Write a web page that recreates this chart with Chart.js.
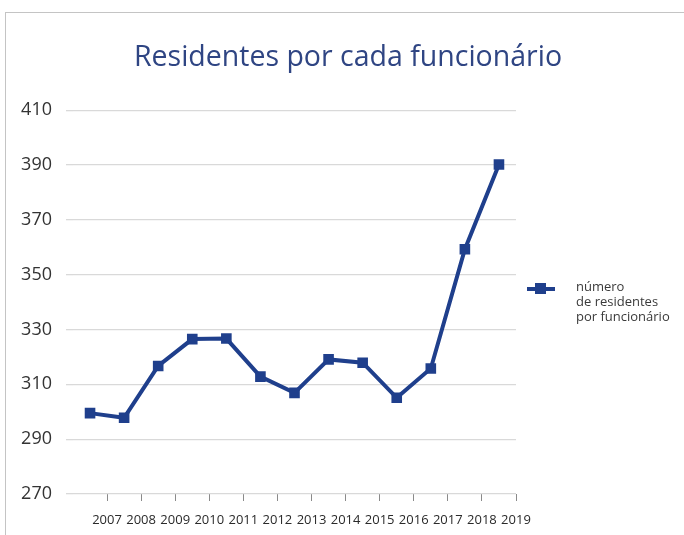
<!DOCTYPE html>
<html>
<head>
<meta charset="utf-8">
<script src="https://cdn.jsdelivr.net/npm/chart.js@4"></script>
<style>
    body { margin: 0; background: #fff; }
    #frame { position: absolute; left: 5px; top: 12px; width: 679px; height: 523px; border-top: 1px solid #c4c4c4; border-left: 1px solid #c4c4c4; }
    #chart-container { position: absolute; left: 0; top: 0; width: 684px; height: 535px; }
    #legend-line { position: absolute; left: 527px; top: 287px; width: 28px; height: 4px; background: #1f3f8c; }
    #legend-box { position: absolute; left: 535px; top: 283px; width: 11px; height: 11px; background: #1f3f8c; }
    #legend-text { position: absolute; left: 576px; top: 279px; font-family: "Open Sans", sans-serif; font-size: 13px; line-height: 15px; color: #3a3a3a; }
</style>
</head>
<body>
<div id="frame"></div>
<div id="chart-container"><canvas id="chartResidentes" width="684" height="535"></canvas></div>
<div id="legend-line"></div>
<div id="legend-box"></div>
<div id="legend-text">número<br>de residentes<br>por funcionário</div>
<script>
const years = ['2007', '2008', '2009', '2010', '2011', '2012', '2013', '2014', '2015', '2016', '2017', '2018', '2019'];
const residentesPorFuncionario = [299.5, 297.8, 316.7, 326.5, 326.7, 312.8, 306.9, 319.1, 317.9, 305.1, 315.8, 359.3, 390.2];
const yTicks = [270, 290, 310, 330, 350, 370, 390, 410];
const titleText = 'Residentes por cada funcionário';
const seriesLabel = 'número de residentes por funcionário';

const lineColor = '#1f3f8c';

const data = {
    labels: years,
    datasets: [{
        label: seriesLabel,
        data: residentesPorFuncionario,
        borderColor: lineColor,
        backgroundColor: lineColor,
        borderWidth: 4,
        pointStyle: 'rect',
        pointRadius: 7.5,
        pointBorderWidth: 0,
        tension: 0,
        fill: false
    }]
};

const options = {
    responsive: false,
    animation: false,
    layout: {
        padding: { left: 20, right: 8, top: 0, bottom: 0 }
    },
    plugins: {
        legend: { display: false },
        tooltip: { enabled: false },
        title: {
            display: true,
            text: titleText,
            color: '#2f4583',
            font: { family: 'Open Sans', size: 28.5, weight: 'normal' },
            padding: { top: 41, bottom: 35 }
        }
    },
    scales: {
        x: {
            offset: true,
            border: { display: false },
            afterFit: axis => { axis.height = 41; },
            grid: {
                offset: true,
                drawOnChartArea: false,
                drawTicks: true,
                tickLength: 7,
                color: ctx => ctx.index === 0 ? 'rgba(0,0,0,0)' : '#8a8a8a'
            },
            ticks: {
                color: '#2a2a2a',
                font: { family: 'Open Sans', size: 13 },
                padding: 11,
                labelOffset: 17,
                maxRotation: 0,
                autoSkip: false
            }
        },
        y: {
            min: 270,
            max: 410,
            border: { display: false },
            afterFit: axis => { axis.width = 53; },
            afterBuildTicks: axis => { axis.ticks = yTicks.map(v => ({ value: v })); },
            grid: {
                color: '#d9d9d9',
                lineWidth: 1.3,
                drawTicks: true,
                tickLength: 7
            },
            ticks: {
                color: '#333',
                font: { family: 'Open Sans', size: 18 },
                padding: 14
            }
        },
        // empty axis on the right, keeps room for the legend
        yRight: {
            position: 'right',
            display: true,
            border: { display: false },
            grid: { drawOnChartArea: false, drawTicks: false },
            ticks: { display: false },
            afterFit: axis => { axis.width = 160; }
        }
    }
};

const chart = new Chart(document.getElementById('chartResidentes').getContext('2d'), {
    type: 'line', data: data, options: options
});
</script>
</body>
</html>
